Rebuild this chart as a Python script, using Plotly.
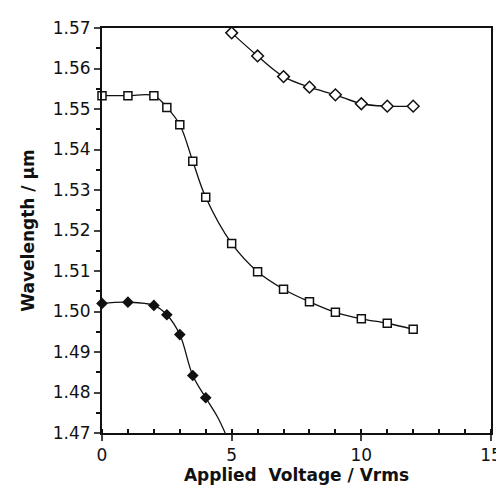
import plotly.graph_objects as go

# open diamonds (upper branch)
v_diam_open = [5, 6, 7, 8, 9, 10, 11, 12]
wl_diam_open = [1.5688, 1.5631, 1.5580, 1.5554, 1.5535, 1.5513, 1.5507, 1.5507]

# open squares
v_square = [0, 1, 2, 2.5, 3, 3.5, 4, 5, 6, 7, 8, 9, 10, 11, 12]
wl_square = [1.5533, 1.5533, 1.5533, 1.5504, 1.5461, 1.5371, 1.5282, 1.5168,
             1.5098, 1.5055, 1.5024, 1.4998, 1.4982, 1.4971, 1.4956]

# filled diamonds
v_diam_fill = [0, 1, 2, 2.5, 3, 3.5, 4]
wl_diam_fill = [1.5020, 1.5023, 1.5015, 1.4992, 1.4943, 1.4842, 1.4787]
# curve continuation to the axis
v_diam_fill_tail = [4, 4.45, 4.75]
wl_diam_fill_tail = [1.4787, 1.4740, 1.4700]

x_ticks = [0, 5, 10, 15]
y_ticks = [1.47, 1.48, 1.49, 1.50, 1.51, 1.52, 1.53, 1.54, 1.55, 1.56, 1.57]
y_tick_text = ["1.47", "1.48", "1.49", "1.50", "1.51", "1.52", "1.53", "1.54", "1.55", "1.56", "1.57"]

black = "#111111"
fig = go.Figure()

fig.add_trace(go.Scatter(
    x=v_diam_fill + v_diam_fill_tail[1:], y=wl_diam_fill + wl_diam_fill_tail[1:],
    mode="lines", line=dict(color=black, width=1.3, shape="spline", smoothing=1),
    showlegend=False, hoverinfo="skip"))
fig.add_trace(go.Scatter(
    x=v_diam_fill, y=wl_diam_fill, mode="markers",
    marker=dict(symbol="diamond", size=9, color=black),
    cliponaxis=False, showlegend=False))

fig.add_trace(go.Scatter(
    x=v_square, y=wl_square, mode="lines+markers",
    line=dict(color=black, width=1.3, shape="spline", smoothing=1),
    marker=dict(symbol="square", size=8, color="white", line=dict(color=black, width=1.5)),
    cliponaxis=False, showlegend=False))

fig.add_trace(go.Scatter(
    x=v_diam_open, y=wl_diam_open, mode="lines+markers",
    line=dict(color=black, width=1.3, shape="spline", smoothing=1),
    marker=dict(symbol="diamond", size=9, color="white", line=dict(color=black, width=1.5)),
    cliponaxis=False, showlegend=False))

fig.update_layout(
    width=504, height=490,
    margin=dict(l=94, r=10, t=15, b=65),
    paper_bgcolor="white", plot_bgcolor="white",
    font=dict(family="DejaVu Sans, sans-serif", size=16, color=black),
)
fig.update_xaxes(
    range=[0, 15], tickvals=x_ticks, ticks="outside", ticklen=6, tickwidth=1.5,
    showline=True, linecolor=black, linewidth=2, mirror=True, showgrid=False, zeroline=False,
    minor=dict(dtick=1, ticks="inside", ticklen=4, tickcolor=black, showgrid=False),
    tickfont=dict(size=17),
    title=dict(text="<b>Applied&nbsp; Voltage / Vrms</b>", font=dict(size=17), standoff=5),
)
fig.update_yaxes(
    range=[1.47, 1.57], tickvals=y_ticks, ticktext=y_tick_text, ticks="outside", ticklen=6, tickwidth=1.5,
    showline=True, linecolor=black, linewidth=2, mirror=True, showgrid=False, zeroline=False,
    minor=dict(dtick=0.005, tick0=1.47, ticks="outside", ticklen=4, tickcolor=black, showgrid=False),
    tickfont=dict(size=17),
    title=dict(text="<b>Wavelength / μm</b>", font=dict(size=17), standoff=14),
)

fig.write_html("out.html")
